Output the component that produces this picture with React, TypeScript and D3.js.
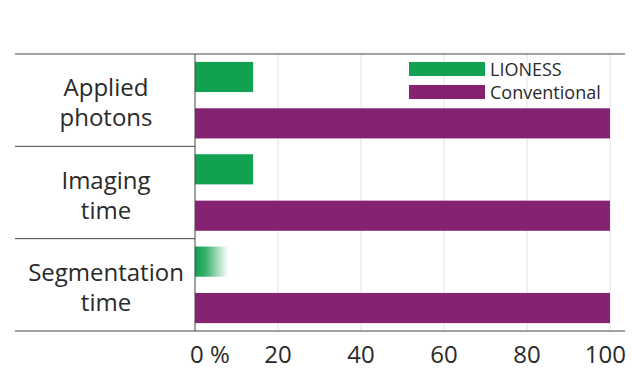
import * as d3 from "d3";

const categories = ["Applied\nphotons", "Imaging\ntime", "Segmentation\ntime"];
const lioness = [14, 14, 8];
const conventional = [100, 100, 100];
const ticks = [0, 20, 40, 60, 80, 100];
const seriesNames = ["LIONESS", "Conventional"];

const GREEN = "#12a150";
const PURPLE = "#862272";
const FONT = "'Open Sans', Roboto, sans-serif";

export default function App() {
  const width = 632;
  const height = 369;
  const x = d3.scaleLinear().domain([0, 100]).range([195, 610]);
  const y = d3.scaleBand().domain(categories).range([54, 331]);
  const inner = d3.scaleBand().domain(seriesNames).range([0, y.bandwidth()]).paddingInner(0.35).paddingOuter(0.17);

  return (
    <svg width={width} height={height} style={{ position: "absolute", left: 0, top: 0 }}>
      <defs>
        <linearGradient id="fade" x1="0" x2="1" y1="0" y2="0">
          <stop offset="0" stopColor={GREEN} stopOpacity={1} />
          <stop offset="0.3" stopColor={GREEN} stopOpacity={0.85} />
          <stop offset="1" stopColor={GREEN} stopOpacity={0} />
        </linearGradient>
      </defs>
      {ticks.slice(1).map((t) => (
        <line key={t} x1={x(t)} x2={x(t)} y1={54} y2={331} stroke="#e2e2e2" strokeWidth={1} />
      ))}
      {categories.map((c, i) => {
        const y0 = y(c)!;
        const lines = c.split("\n");
        return (
          <g key={c}>
            <rect
              x={x(0)}
              y={y0 + inner("LIONESS")!}
              width={x(lioness[i]) - x(0)}
              height={inner.bandwidth()}
              fill={i === 2 ? "url(#fade)" : GREEN}
            />
            <rect
              x={x(0)}
              y={y0 + inner("Conventional")!}
              width={x(conventional[i]) - x(0)}
              height={inner.bandwidth()}
              fill={PURPLE}
            />
            {lines.map((l, j) => (
              <text
                key={j}
                x={106}
                y={y0 + y.bandwidth() / 2 - 4 + j * 30}
                textAnchor="middle"
                fontFamily={FONT}
                fontWeight={400}
                fontSize={24}
                fill="#2a2a2a"
              >
                {l}
              </text>
            ))}
            {i > 0 && <line x1={15} x2={x(0)} y1={y0} y2={y0} stroke="#444" strokeWidth={1} />}
          </g>
        );
      })}
      <line x1={x(0)} x2={x(0)} y1={54} y2={331} stroke="#444" strokeWidth={1} />
      <line x1={15} x2={625} y1={54} y2={54} stroke="#444" strokeWidth={1} />
      <line x1={15} x2={625} y1={331} y2={331} stroke="#444" strokeWidth={1} />
      {ticks.map((t) => (
        <text
          key={t}
          x={t === 0 ? x(t) - 5 : t === 100 ? 626 : x(t)}
          y={363}
          textAnchor={t === 0 ? "start" : t === 100 ? "end" : "middle"}
          fontFamily={FONT}
          fontWeight={400}
          fontSize={24}
          fill="#2a2a2a"
        >
          {t === 0 ? "0 %" : t}
        </text>
      ))}
      {seriesNames.map((s, i) => (
        <g key={s}>
          <rect x={409} y={62 + i * 23} width={76} height={14} fill={i === 0 ? GREEN : PURPLE} />
          <text x={490} y={76 + i * 23} fontFamily={FONT} fontWeight={400} fontSize={18} fill="#2a2a2a">
            {s}
          </text>
        </g>
      ))}
    </svg>
  );
}
